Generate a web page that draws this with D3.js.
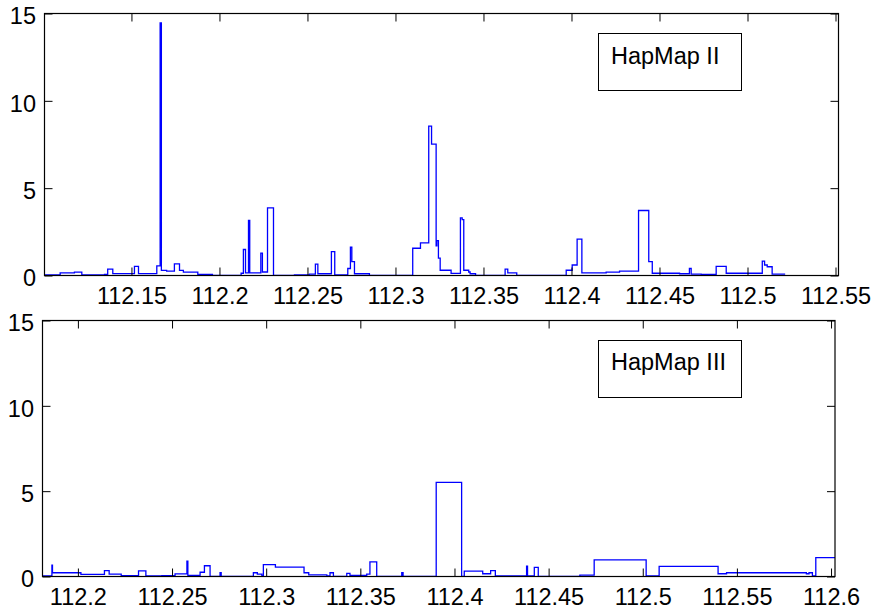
<!DOCTYPE html>
<html>
<head>
<meta charset="utf-8">
<script src="https://cdn.jsdelivr.net/npm/d3@7"></script>
<style>
  html, body { margin: 0; padding: 0; background: #fff; }
  svg { display: block; }
  text { font-family: "Liberation Sans", Arial, sans-serif; fill: #000; }
</style>
</head>
<body>
<svg id="chart" width="874" height="614"></svg>
<script>
// HapMap II: step positions (Mb) and the value held from each position onward
const hap2Pos = [112.1006, 112.1095, 112.1176, 112.1218, 112.1347, 112.1365, 112.1394, 112.1517, 112.1540, 112.1644,
  112.1663, 112.1670, 112.1700, 112.1744, 112.1773, 112.1795, 112.1877, 112.1960, 112.2123, 112.2136,
  112.2148, 112.2165, 112.2172, 112.2235, 112.2244, 112.2273, 112.2307, 112.2426, 112.2511, 112.2545,
  112.2559, 112.2636, 112.2655, 112.2729, 112.2744, 112.2752, 112.2767, 112.2852, 112.3098, 112.3142,
  112.3189, 112.3205, 112.3231, 112.3235, 112.3244, 112.3254, 112.3316, 112.3369, 112.3379, 112.3388,
  112.3416, 112.3424, 112.3455, 112.3623, 112.3638, 112.3689, 112.3970, 112.4004, 112.4032, 112.4059,
  112.4197, 112.4273, 112.4381, 112.4439, 112.4459, 112.4614, 112.4670, 112.4680, 112.4737, 112.4822,
  112.4879, 112.5084, 112.5097, 112.5112, 112.5140, 112.5214];
const hap2Val = [0.03, 0.15, 0.19, 0.03, 0.06, 0.36, 0.11, 0.52, 0.11, 0.55,
  14.46, 0.29, 0.25, 0.67, 0.29, 0.19, 0.06, 0.01, 0.13, 1.49,
  0.15, 3.15, 0.15, 1.28, 0.20, 3.87, 0.01, 0.03, 0.08, 0.65,
  0.10, 1.37, 0.04, 0.40, 1.62, 0.80, 0.10, 0.01, 1.56, 1.87,
  8.55, 7.52, 1.70, 2.00, 1.00, 0.30, 0.12, 3.30, 3.20, 0.30,
  0.20, 0.10, 0.01, 0.36, 0.15, 0.01, 0.30, 0.60, 2.08, 0.15,
  0.19, 0.25, 3.72, 0.80, 0.13, 0.10, 0.40, 0.08, 0.06, 0.52,
  0.13, 0.82, 0.60, 0.50, 0.08, 0.08];

// HapMap III: step positions (Mb) and values
const hap3Pos = [112.1812, 112.1862, 112.1865, 112.2016, 112.2141, 112.2166, 112.2230, 112.2322, 112.2361, 112.2446,
  112.2516, 112.2579, 112.2584, 112.2649, 112.2672, 112.2702, 112.2755, 112.2761, 112.2932, 112.2953,
  112.2977, 112.2985, 112.3049, 112.3201, 112.3226, 112.3322, 112.3339, 112.3357, 112.3428, 112.3445,
  112.3534, 112.3551, 112.3587, 112.3720, 112.3727, 112.3903, 112.4038, 112.4052, 112.4150, 112.4192,
  112.4217, 112.4383, 112.4388, 112.4424, 112.4445, 112.4666, 112.4742, 112.5018, 112.5087, 112.5400,
  112.5445, 112.5869, 112.5883, 112.5901, 112.5919, 112.6021];
const hap3Val = [0.03, 0.66, 0.22, 0.12, 0.35, 0.14, 0.05, 0.33, 0.03, 0.05,
  0.15, 0.90, 0.06, 0.25, 0.63, 0.01, 0.22, 0.01, 0.22, 0.14,
  0.04, 0.70, 0.55, 0.22, 0.10, 0.04, 0.22, 0.01, 0.18, 0.06,
  0.14, 0.86, 0.01, 0.22, 0.01, 5.52, 0.01, 0.31, 0.16, 0.35,
  0.04, 0.60, 0.04, 0.53, 0.01, 0.08, 0.98, 0.04, 0.59, 0.16,
  0.22, 0.16, 0.22, 0.04, 1.11, 1.11];

// Axis ticks
const hap2XTicks = [112.15, 112.2, 112.25, 112.3, 112.35, 112.4, 112.45, 112.5, 112.55];
const hap3XTicks = [112.2, 112.25, 112.3, 112.35, 112.4, 112.45, 112.5, 112.55, 112.6];
const yTicks = [0, 5, 10, 15];

const panels = [
  { pos: hap2Pos, val: hap2Val, xTicks: hap2XTicks, label: "HapMap II",
    xDomain: [112.1006, 112.5517], left: 44.5, right: 838.5, top: 13.5, bottom: 275.5,
    legend: { x: 598.5, y: 33.5, w: 143, h: 57, tx: 611, ty: 63.5 } },
  { pos: hap3Pos, val: hap3Val, xTicks: hap3XTicks, label: "HapMap III",
    xDomain: [112.1812, 112.6021], left: 42.5, right: 835, top: 320.5, bottom: 576.5,
    legend: { x: 598.5, y: 340.5, w: 143, h: 57, tx: 611, ty: 370 } }
];

const svg = d3.select("#chart");
const fontSize = 23.5;
const tickLen = 8;

panels.forEach(p => {
  const x = d3.scaleLinear().domain(p.xDomain).range([p.left, p.right]);
  const y = d3.scaleLinear().domain([0, 15]).range([p.bottom, p.top]);
  const g = svg.append("g");

  // step trace
  const pts = p.pos.map((d, i) => [d, p.val[i]]);
  const line = d3.line().x(d => x(d[0])).y(d => y(d[1])).curve(d3.curveStepAfter);
  g.append("path")
    .datum(pts)
    .attr("d", line)
    .attr("fill", "none")
    .attr("stroke", "#0000ff")
    .attr("stroke-width", 1.3)
    .attr("stroke-linejoin", "miter");

  // bottom axis with labels, ticks pointing inward
  const bx = g.append("g").attr("transform", `translate(0,${p.bottom})`)
    .call(d3.axisBottom(x).tickValues(p.xTicks).tickFormat(d3.format("")).tickSizeInner(-tickLen).tickSizeOuter(0));
  bx.selectAll("text").attr("y", 28.5).attr("dy", 0).style("font-size", fontSize + "px")
    .style("font-family", "'Liberation Sans', Arial, sans-serif");

  // top axis (ticks only)
  g.append("g").attr("transform", `translate(0,${p.top})`)
    .call(d3.axisTop(x).tickValues(p.xTicks).tickFormat("").tickSizeInner(-tickLen).tickSizeOuter(0));

  // left axis with labels
  const ly = g.append("g").attr("transform", `translate(${p.left},0)`)
    .call(d3.axisLeft(y).tickValues(yTicks).tickFormat(d3.format("d")).tickSizeInner(-tickLen).tickSizeOuter(0).tickPadding(8.5));
  ly.selectAll("text").attr("dy", "0.44em").style("font-size", fontSize + "px")
    .style("font-family", "'Liberation Sans', Arial, sans-serif");

  // right axis (ticks only)
  g.append("g").attr("transform", `translate(${p.right},0)`)
    .call(d3.axisRight(y).tickValues(yTicks).tickFormat("").tickSizeInner(-tickLen).tickSizeOuter(0));

  g.selectAll(".domain").remove();
  g.selectAll(".tick line").attr("stroke", "#000").attr("stroke-width", 1);

  // axes box
  g.append("rect")
    .attr("x", p.left).attr("y", p.top)
    .attr("width", p.right - p.left).attr("height", p.bottom - p.top)
    .attr("fill", "none").attr("stroke", "#000").attr("stroke-width", 1.2);

  // legend box
  g.append("rect")
    .attr("x", p.legend.x).attr("y", p.legend.y)
    .attr("width", p.legend.w).attr("height", p.legend.h)
    .attr("fill", "#fff").attr("stroke", "#000").attr("stroke-width", 1);
  g.append("text")
    .attr("x", p.legend.tx).attr("y", p.legend.ty)
    .style("font-size", fontSize + "px")
    .text(p.label);
});
</script>
</body>
</html>
